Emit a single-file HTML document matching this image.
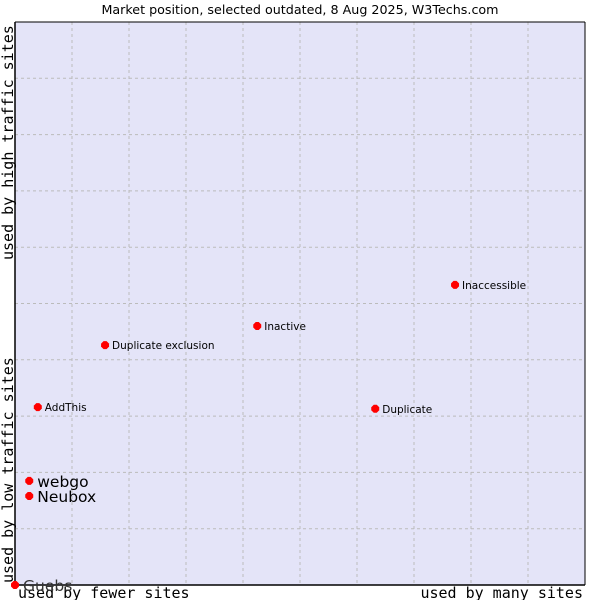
<!DOCTYPE html>
<html><head><meta charset="utf-8"><style>
body{margin:0;background:#fff;width:600px;height:600px;overflow:hidden}
svg{font-family:"DejaVu Sans","Liberation Sans",sans-serif}
</style></head><body>
<svg width="600" height="600">
<text x="300" y="14" text-anchor="middle" font-size="12.7" fill="#000">Market position, selected outdated, 8 Aug 2025, W3Techs.com</text>
<rect x="15" y="22" width="570" height="563" fill="#e4e4f8"/>
<g id="grid"></g>
<line x1="15" y1="22" x2="15" y2="585" stroke="#000" stroke-width="1.5"/>
<line x1="15" y1="585" x2="585" y2="585" stroke="#000" stroke-width="1.5"/>
<line x1="15" y1="22" x2="585" y2="22" stroke="#000"/>
<line x1="585" y1="22" x2="585" y2="585" stroke="#000"/>
<g font-family="'DejaVu Sans Mono','Liberation Mono',monospace" font-size="15" fill="#000">
<text x="18" y="598">used by fewer sites</text>
<text x="583" y="598" text-anchor="end">used by many sites</text>
<text transform="translate(13,583) rotate(-90)">used by low traffic sites</text>
<text transform="translate(13,260) rotate(-90)">used by high traffic sites</text>
</g>
<g id="points"></g>
</svg>
<script>
const names=["Guebs","webgo","Neubox","AddThis","Duplicate exclusion","Inactive","Duplicate","Inaccessible"];
const xVals=[0,2.5,2.5,4.0,15.8,42.5,63.2,77.2];
const yVals=[0,18.5,15.8,31.6,42.6,46.0,31.3,53.3];
const bigLabel=[true,true,true,false,false,false,false,false];
const NS="http://www.w3.org/2000/svg";
const X=v=>15+v/100*570, Y=v=>585-v/100*563;
const grid=document.getElementById('grid');
for(let i=1;i<10;i++){
 const v=document.createElementNS(NS,'line');
 v.setAttribute('x1',X(i*10));v.setAttribute('x2',X(i*10));v.setAttribute('y1',22);v.setAttribute('y2',585);
 v.setAttribute('stroke','#bbb');v.setAttribute('stroke-dasharray','3,3');
 
 
 grid.appendChild(v);
 const h=document.createElementNS(NS,'line');
 h.setAttribute('y1',Y(i*10));h.setAttribute('y2',Y(i*10));h.setAttribute('x1',15);h.setAttribute('x2',585);
 h.setAttribute('stroke','#bbb');h.setAttribute('stroke-dasharray','3,3');
 
 
 grid.appendChild(h);
}
const pts=document.getElementById('points');
names.forEach((n,i)=>{
 const cx=X(xVals[i]),cy=Y(yVals[i]);
 const c=document.createElementNS(NS,'polygon');
 c.setAttribute('points',`${cx-4},${cy-1.5} ${cx-1.5},${cy-4} ${cx+1.5},${cy-4} ${cx+4},${cy-1.5} ${cx+4},${cy+1.5} ${cx+1.5},${cy+4} ${cx-1.5},${cy+4} ${cx-4},${cy+1.5}`);
 c.setAttribute('fill','#f00');
 
 
 pts.appendChild(c);
 const t=document.createElementNS(NS,'text');
 t.setAttribute('x',cx+(bigLabel[i]?8:7));
 t.setAttribute('y',cy+(bigLabel[i]?6:4));
 t.setAttribute('font-size',bigLabel[i]?15.5:10.5);
 t.setAttribute('fill',i===0?'#333':'#000');
 t.textContent=n;
 
 
 pts.appendChild(t);
});
</script>
</body></html>
